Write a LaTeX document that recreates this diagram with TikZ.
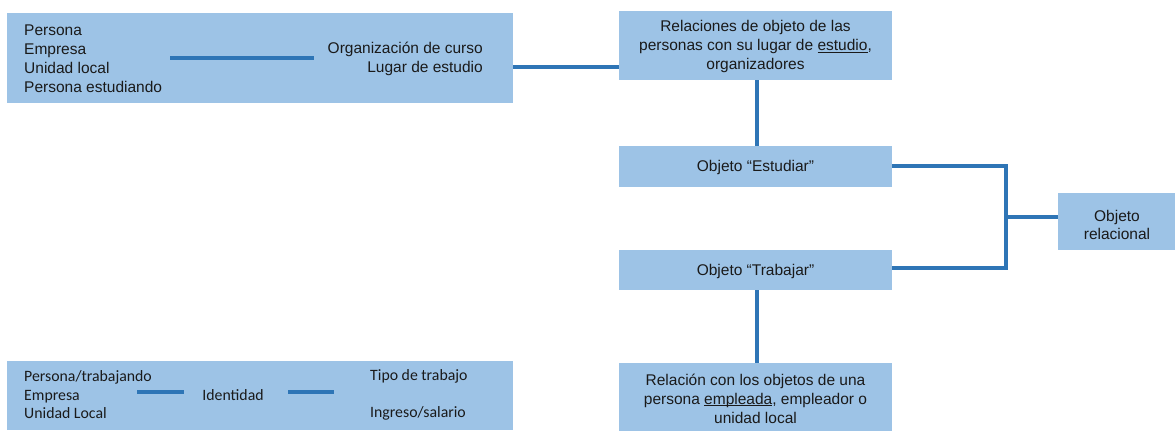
\documentclass[tikz,border=0pt]{standalone}
\usepackage{fontspec}
\setmainfont{Liberation Sans}
\newfontfamily\calib{Carlito}
\newcommand{\myul}[1]{\leavevmode\setbox0\hbox{#1}\rlap{\rule[-2pt]{\wd0}{0.8pt}}\box0}
\definecolor{boxfill}{HTML}{9DC3E6}
\definecolor{linecol}{HTML}{2E75B6}
\definecolor{txt}{HTML}{1A1A1A}
\tikzset{
  box/.style={fill=boxfill, draw=none, inner sep=0pt, anchor=north west},
  conn/.style={draw=linecol, line width=4.8pt},
  ar/.style={font=\fontsize{15.5}{18.9}\selectfont, text=txt, inner sep=0pt},
  cb/.style={font=\calib\fontsize{15.8}{18.5}\selectfont, text=txt, inner sep=0pt},
}
\begin{document}
\begin{tikzpicture}[x=1pt,y=-1pt]
\useasboundingbox (0,0) rectangle (1175,431);
% boxes
\node[box, minimum width=506pt, minimum height=90pt] (A) at (7,13) {};
\node[box, minimum width=273pt, minimum height=69pt] (B) at (619,11) {};
\node[box, minimum width=273pt, minimum height=41pt] (C) at (619,146) {};
\node[box, minimum width=273pt, minimum height=40pt] (D) at (619,250) {};
\node[box, minimum width=117pt, minimum height=57pt] (E) at (1058,193) {};
\node[box, minimum width=273pt, minimum height=68pt] (F) at (619,363) {};
\node[box, minimum width=506pt, minimum height=69pt] (G) at (7,361) {};
% box A texts
\node[ar, anchor=west, align=left] (Aleft) at (24,58.5) {Persona\\Empresa\\Unidad local\\Persona estudiando};
\node[ar, anchor=east, align=right] (Aright) at (483,58.5) {Organización de curso\\Lugar de estudio};
\coordinate (a1) at (170,58);
\coordinate (a2) at (314,58);
\draw[conn] (a1) -- (a2);
% box B
\node[ar, align=center] (Bt) at (755.5,46.5) {Relaciones de objeto de las\\personas con su lugar de \myul{estudio},\\organizadores};
\node[ar] (Ct) at (755.5,167.5) {Objeto “Estudiar”};
\node[ar] (Dt) at (755.5,271) {Objeto “Trabajar”};
\node[ar, align=center] (Et) at (1117,225) {Objeto\\relacional};
\node[ar, align=center] (Ft) at (755.5,398.5) {Relación con los objetos de una\\persona \myul{empleada}, empleador o\\unidad local};
% box G texts
\node[cb, anchor=west, align=left] (Gleft) at (24,395) {Persona/trabajando\\Empresa\\Unidad Local};
\node[cb] (Gmid) at (233,395.5) {Identidad};
\node[cb, anchor=west] (Gr1) at (370,376.5) {Tipo de trabajo};
\node[cb, anchor=west] (Gr2) at (370,413.5) {Ingreso/salario};
\coordinate (g1) at (137,392);
\coordinate (g2) at (184,392);
\coordinate (g3) at (288,392);
\coordinate (g4) at (334,392);
\draw[conn] (g1) -- (g2);
\draw[conn] (g3) -- (g4);
% connectors
\draw[conn] (A.east |- 0,67) -- (B.west |- 0,67);
\draw[conn] (B.south -| 757,0) -- (C.north -| 757,0);
\coordinate (j) at (1006,217);
\draw[conn] (C.east |- 0,166) -| (j) |- (D.east |- 0,268);
\draw[conn] (j) -- (E.west |- j);
\draw[conn] (D.south -| 757,0) -- (F.north -| 757,0);
\end{tikzpicture}
\end{document}
